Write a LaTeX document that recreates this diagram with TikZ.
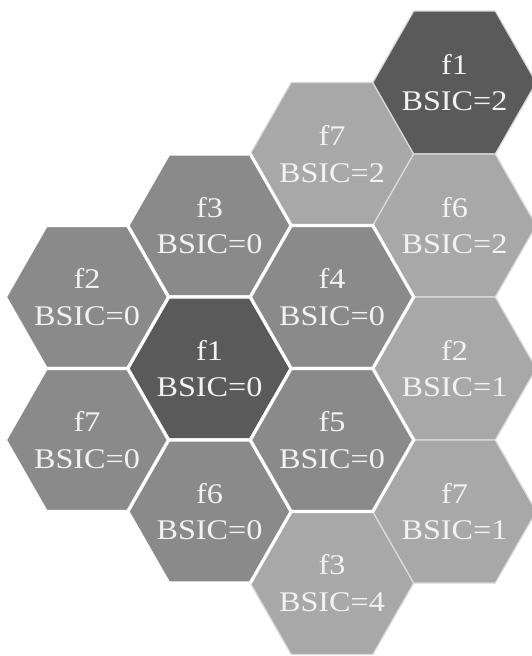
\documentclass[tikz,border=0pt]{standalone}
\usepackage{fontspec}
\newfontfamily\cellfont[FakeStretch=1.13]{Liberation Serif}

\definecolor{celldark}{gray}{0.353}
\definecolor{cellmid}{gray}{0.541}
\definecolor{celllight}{gray}{0.66}
\definecolor{celltext}{gray}{0.95}
\definecolor{thinedge}{gray}{0.86}

% hexagon half-extents: R = side vertex, A = top edge half-length, H = half height
\def\hexR{81.7}
\def\hexA{40.8}
\def\hexH{71.5}

\tikzset{
  thickcell/.style={fill=#1, draw=white, line width=3.2pt, line join=miter},
  thincell/.style={fill=#1, draw=thinedge, line width=1.2pt, line join=miter},
  celllabel/.style={text=celltext, font=\cellfont\fontsize{28.5}{36.5}\selectfont,
                    align=center, inner sep=0pt},
}

% #1 name, #2 x, #3 y, #4 face style, #5 frequency, #6 BSIC
\newcommand\hexcell[6]{%
  \path[#4]
    (#2-\hexR,#3) -- (#2-\hexA,#3-\hexH) -- (#2+\hexA,#3-\hexH) --
    (#2+\hexR,#3) -- (#2+\hexA,#3+\hexH) -- (#2-\hexA,#3+\hexH) -- cycle;
  \node[celllabel] (#1) at (#2,#3) {#5\\BSIC=#6};
}

\begin{document}
\begin{tikzpicture}[x=1pt,y=-1pt]
  \useasboundingbox (0,0) rectangle (532,656);
  \fill[white] (0,0) rectangle (532,656);

  % outer cells (BSIC 1, 2, 4) with thin borders
  \hexcell{cF}{332}{154}{thincell=celllight}{f7}{2}
  \hexcell{cI}{332}{583}{thincell=celllight}{f3}{4}
  \hexcell{cJ}{454.5}{82.5}{thincell=celldark}{f1}{2}
  \hexcell{cK}{454.5}{225.5}{thincell=celllight}{f6}{2}
  \hexcell{cL}{454.5}{368.5}{thincell=celllight}{f2}{1}
  \hexcell{cM}{454.5}{511.5}{thincell=celllight}{f7}{1}

  % BSIC 0 cluster with wide white borders
  \hexcell{cA}{87}{297}{thickcell=cellmid}{f2}{0}
  \hexcell{cB}{87}{440}{thickcell=cellmid}{f7}{0}
  \hexcell{cC}{209.5}{225.5}{thickcell=cellmid}{f3}{0}
  \hexcell{cD}{209.5}{368.5}{thickcell=celldark}{f1}{0}
  \hexcell{cE}{209.5}{511.5}{thickcell=cellmid}{f6}{0}
  \hexcell{cG}{332}{297}{thickcell=cellmid}{f4}{0}
  \hexcell{cH}{332}{440}{thickcell=cellmid}{f5}{0}
\end{tikzpicture}
\end{document}
